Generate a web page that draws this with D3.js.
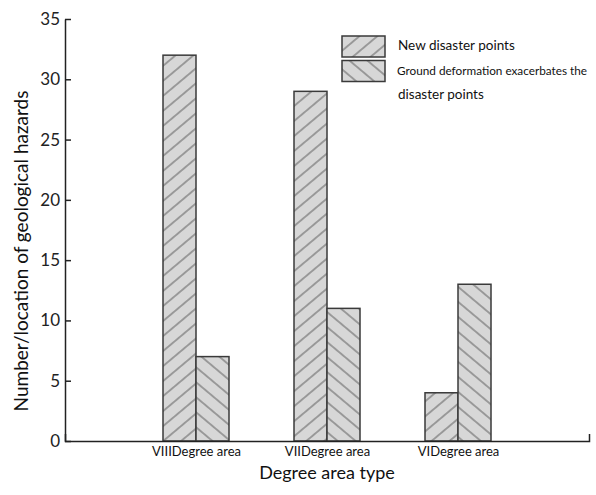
<!DOCTYPE html>
<html>
<head>
<meta charset="utf-8">
<script src="https://cdn.jsdelivr.net/npm/d3@7"></script>
<style>
  html, body { margin: 0; padding: 0; background: #fff; }
  svg { display: block; font-family: Lato, "Open Sans", sans-serif; }
</style>
</head>
<body>
<svg id="chart" width="596" height="495"></svg>
<script>
const categories = ["VIIIDegree area", "VIIDegree area", "VIDegree area"];
const seriesNames = ["New disaster points", "Ground deformation exacerbates the disaster points"];
const newPoints = [32, 29, 4];
const deformPoints = [7, 11, 13];
const yTicks = [0, 5, 10, 15, 20, 25, 30, 35];
const xTitle = "Degree area type";
const yTitle = "Number/location of geological hazards";

(function () {
const svg = d3.select("#chart");
const mLeft = 65, mRight = 589, mTop = 19, mBottom = 441;

const x = d3.scalePoint().domain(categories).range([mLeft, mRight]).padding(1);
const y = d3.scaleLinear().domain([0, 35]).range([mBottom, mTop]);
const barW = 33;

// patterns
const defs = svg.append("defs");
function hatch(id, angle) {
  const p = defs.append("pattern").attr("id", id)
    .attr("patternUnits", "userSpaceOnUse")
    .attr("width", 11.5).attr("height", 11.5)
    .attr("patternTransform", `rotate(${angle})`);
  p.append("rect").attr("width", 11.5).attr("height", 11.5).attr("fill", "#d7d7d7");
  p.append("line").attr("x1", 5.75).attr("x2", 5.75).attr("y1", -1).attr("y2", 12.5)
    .attr("stroke", "#6a6a6a").attr("stroke-width", 1.1);
}
hatch("h1", 50);
hatch("h2", -50);

const series = [
  { name: seriesNames[0], values: newPoints, fill: "url(#h1)", offset: -1 },
  { name: seriesNames[1], values: deformPoints, fill: "url(#h2)", offset: 0 }
];

// bars
series.forEach(s => {
  svg.append("g").selectAll("rect").data(categories).join("rect")
    .attr("x", (c) => x(c) + s.offset * barW)
    .attr("y", (c, i) => y(s.values[i]))
    .attr("width", barW)
    .attr("height", (c, i) => y(0) - y(s.values[i]))
    .attr("fill", s.fill)
    .attr("stroke", "#3a3a3a").attr("stroke-width", 1.5);
});

// y axis
const yAxis = svg.append("g").attr("transform", `translate(${mLeft},0)`)
  .call(d3.axisLeft(y).tickValues(yTicks).tickSize(-6).tickSizeOuter(0).tickPadding(5));
yAxis.select(".domain").attr("stroke", "#222").attr("stroke-width", 1.5);
yAxis.selectAll(".tick line").attr("stroke", "#222").attr("stroke-width", 1.5);
yAxis.selectAll(".tick text").attr("font-size", 17).attr("fill", "#222")
  .attr("font-family", "Lato, sans-serif");

// x axis
const xAxis = svg.append("g").attr("transform", `translate(0,${mBottom})`)
  .call(d3.axisBottom(x).tickSize(0).tickSizeOuter(-7).tickPadding(6));
xAxis.select(".domain").attr("stroke", "#222").attr("stroke-width", 1.5);
xAxis.selectAll(".tick text").attr("font-size", 13).attr("fill", "#111")
  .attr("font-family", "Lato, sans-serif");

// titles
svg.append("text").attr("x", 327).attr("y", 479).attr("text-anchor", "middle")
  .attr("font-size", 18).attr("fill", "#111").text(xTitle);
svg.append("text").attr("transform", `translate(28,${(mTop + mBottom) / 2 + 21}) rotate(-90)`)
  .attr("text-anchor", "middle").attr("font-size", 19).attr("fill", "#111").text(yTitle);

// legend
const lg = svg.append("g");
const lgX = 342, lgW = 43, lgH = 21;
lg.append("rect").attr("x", lgX).attr("y", 36).attr("width", lgW).attr("height", lgH)
  .attr("fill", "url(#h1)").attr("stroke", "#3a3a3a").attr("stroke-width", 1.5);
lg.append("rect").attr("x", lgX).attr("y", 60.5).attr("width", lgW).attr("height", lgH)
  .attr("fill", "url(#h2)").attr("stroke", "#3a3a3a").attr("stroke-width", 1.5);
lg.append("text").attr("x", 398).attr("y", 50).attr("font-size", 13.5).attr("fill", "#111")
  .text(seriesNames[0]);
lg.append("text").attr("x", 397).attr("y", 75).attr("font-size", 12).attr("fill", "#111")
  .attr("textLength", 190).attr("lengthAdjust", "spacingAndGlyphs")
  .text("Ground deformation exacerbates the");
lg.append("text").attr("x", 398).attr("y", 99).attr("font-size", 13.5).attr("fill", "#111")
  .text("disaster points");
})();
</script>
</body>
</html>
